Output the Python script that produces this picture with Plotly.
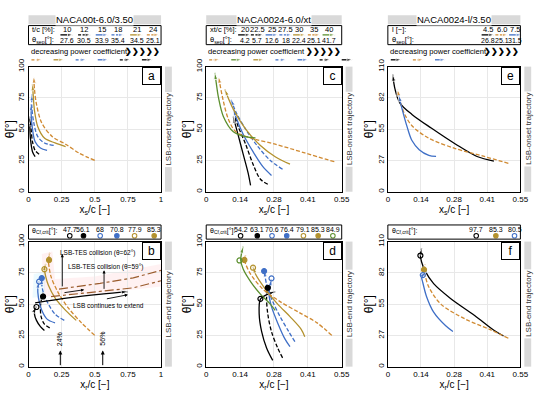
import plotly.graph_objects as go

# ---------------- colours / styles ----------------
BLACK = "#000000"; BLUE = "#3f6fc6"; GOLD = "#b3912d"; ORANGE = "#d08a32"
GREEN = "#5c8f2e"; BROWN = "#9a5b2c"; GREY = "#d9d9d9"

# ---------------- data ----------------
# Panel a / b : NACA00t-6.0/3.50, t/c [%]
a_labels = ["10", "12", "15", "18", "21", "24"]
a_sep = ["27.6", "30.5", "33.9", "35.4", "34.5", "25.1"]
a_onset_x = [[0.05, 0.03, 0.015, 0.01, 0.01],
             [0.08, 0.05, 0.03, 0.02, 0.015],
             [0.14, 0.09, 0.05, 0.03, 0.02, 0.02],
             [0.19, 0.12, 0.07, 0.04, 0.025, 0.025],
             [0.28, 0.2, 0.12, 0.07, 0.045, 0.035, 0.03],
             [0.5, 0.38, 0.28, 0.18, 0.1, 0.06, 0.045, 0.04]]
a_onset_y = [[28, 32, 42, 52, 60],
             [30, 33, 40, 50, 58],
             [33, 35, 40, 50, 62, 70],
             [37, 39, 44, 55, 68, 78],
             [36, 39, 43, 52, 65, 78, 86],
             [25, 31, 38, 44, 55, 70, 82, 92]]
b_end_x = [[0.12, 0.09, 0.06, 0.045, 0.05, 0.06],
           [0.16, 0.12, 0.095, 0.09, 0.1, 0.11],
           [0.2, 0.14, 0.1, 0.075, 0.07, 0.08],
           [0.27, 0.2, 0.15, 0.11, 0.1, 0.1],
           [0.36, 0.28, 0.2, 0.15, 0.13, 0.12, 0.13],
           [0.5, 0.4, 0.3, 0.22, 0.17, 0.155, 0.15, 0.16]]
b_end_y = [[29, 32, 37, 42, 46, 48],
           [31, 34, 40, 48, 55, 59],
           [35, 38, 45, 55, 63, 68],
           [37, 42, 50, 60, 66, 71],
           [37, 45, 55, 65, 72, 78, 82],
           [25, 35, 47, 60, 72, 80, 86, 91]]
b_crit = [47.7, 56.1, 68, 70.8, 77.9, 85.3]
b_crit_x = [0.06, 0.11, 0.08, 0.1, 0.12, 0.155]
b_extend_x = [0.05, 0.3, 0.55, 0.75]
b_extend_y = [51, 55, 58, 60]
b_tes62_x = [0.23, 0.54, 0.79, 1.0]
b_tes62_y = [62, 66.6, 71, 77]
b_tes59_x = [0.17, 0.54, 0.79, 1.0]
b_tes59_y = [56, 60, 63, 68.7]
b_pct_x = [0.24, 0.56]
b_pct_txt = ["24%", "56%"]

# Panel c / d : NACA0024-6.0/xt, xt/c [%]
c_labels = ["20", "22.5", "25", "27.5", "30", "35", "40"]
c_sep = ["4.2", "5.7", "12.6", "18", "22.4", "25.1", "41.7"]
c_onset_x = [[0.18, 0.17, 0.15, 0.13, 0.115, 0.11],
             [0.25, 0.22, 0.19, 0.16, 0.13, 0.115],
             [0.265, 0.23, 0.19, 0.15, 0.12, 0.11],
             [0.31, 0.26, 0.21, 0.16, 0.12, 0.10],
             [0.34, 0.28, 0.22, 0.16, 0.11, 0.075],
             [0.52, 0.4, 0.28, 0.18, 0.12, 0.09, 0.07, 0.05],
             [0.2, 0.16, 0.11, 0.07, 0.05, 0.04, 0.035]]
c_onset_y = [[5, 15, 30, 45, 56, 60],
             [6, 10, 22, 38, 52, 61],
             [13, 20, 32, 46, 60, 66],
             [18, 25, 36, 50, 64, 74],
             [22, 28, 37, 50, 66, 82],
             [24, 31, 38, 43, 48, 58, 72, 92],
             [43, 44, 48, 60, 75, 88, 95]]
d_end_x = [[0.27, 0.245, 0.225, 0.215, 0.22, 0.25, 0.28],
           [0.31, 0.29, 0.265, 0.25, 0.245, 0.25],
           [0.34, 0.32, 0.29, 0.265, 0.255, 0.26, 0.265],
           [0.36, 0.335, 0.3, 0.27, 0.245, 0.235],
           [0.4, 0.385, 0.34, 0.29, 0.24, 0.2, 0.19],
           [0.51, 0.45, 0.38, 0.3, 0.23, 0.18, 0.16, 0.155, 0.16],
           [0.28, 0.26, 0.22, 0.18, 0.15, 0.14, 0.145, 0.15]]
d_end_y = [[5, 15, 28, 42, 54, 58, 60],
           [7, 15, 28, 42, 55, 64],
           [16, 22, 35, 48, 58, 65, 70],
           [20, 28, 40, 52, 66, 77],
           [24, 30, 40, 50, 62, 74, 80],
           [25, 35, 43, 52, 62, 74, 82, 85, 89],
           [45, 50, 58, 68, 78, 85, 92, 96]]
d_crit = [54.2, 63.1, 70.6, 76.4, 79.1, 85.3, 84.9]
d_crit_x = [0.22, 0.25, 0.265, 0.235, 0.19, 0.155, 0.135]

# Panel e / f : NACA0024-l/3.50, l [-]
e_labels = ["4.5", "6.0", "7.5"]
e_sep = ["26.8", "25.1", "31.5"]
e_onset_x = [[0.44, 0.37, 0.28, 0.18, 0.1, 0.05, 0.03, 0.02],
             [0.5, 0.4, 0.28, 0.17, 0.1, 0.07, 0.05, 0.04],
             [0.2, 0.17, 0.13, 0.1, 0.08, 0.06, 0.045]]
e_onset_y = [[27, 31, 42, 56, 68, 78, 90, 103],
             [25, 31, 38, 47, 58, 68, 80, 90],
             [31, 32, 37, 45, 57, 72, 85]]
f_end_x = [[0.48, 0.44, 0.36, 0.26, 0.19, 0.155, 0.14, 0.135, 0.14],
           [0.5, 0.42, 0.32, 0.22, 0.17, 0.155, 0.15, 0.155],
           [0.27, 0.24, 0.19, 0.16, 0.145, 0.14, 0.145, 0.16]]
f_end_y = [[27, 32, 45, 60, 73, 84, 92, 97.7, 104],
           [25, 33, 42, 55, 70, 80, 85, 90],
           [31, 36, 48, 62, 74, 79, 80.5, 83]]
f_crit = [97.7, 85.3, 80.5]
f_crit_x = [0.135, 0.15, 0.145]

# ---------------- styles ----------------
a_styles = [(BLACK, "solid"), (BLACK, "4px,2px"), (BLUE, "solid"), (BLUE, "4px,2px"),
            (GOLD, "solid"), (ORANGE, "4px,2px")]
c_styles = [(BLACK, "solid"), (BLACK, "4px,2px"), (BLUE, "solid"), (BLUE, "4px,2px"),
            (GOLD, "solid"), (ORANGE, "4px,2px"), (GREEN, "solid")]
e_styles = [(BLACK, "solid"), (ORANGE, "4px,2px"), (BLUE, "solid")]
a_order = [5, 4, 3, 2, 1, 0]
c_order = [5, 6, 4, 3, 2, 1, 0]
e_order = [0, 1, 2]
b_filled = [False, True, False, True, False, True]
d_filled = [False, True, False, True, False, True, False]
f_filled = [False, True, False]

W, H = 550, 396
FONT = "Arial, Liberation Sans, sans-serif"

# layout geometry in pixels
cols = {"a": (27, 162), "c": (208, 346), "e": (393, 528)}
TOP = (60, 188)
BOT = (239, 367)
a_hdr_pos = [66, 84, 102, 118, 137, 154]
c_hdr_pos = [247, 260, 275, 289, 303, 318, 333]
e_hdr_pos = [495, 509, 523]
b_leg_pos = [69, 83, 100, 117, 135, 155]
d_leg_pos = [243, 260, 275, 290, 307, 322, 337]
f_leg_pos = [483, 503, 522]


def PX(p):
    return p / W


def PY(p):
    return 1 - p / H


fig = go.Figure()
annotations = []
shapes = []


def ann(x, y, text, size=7, xanchor="center", yanchor="middle", **kw):
    d = dict(x=PX(x), y=PY(y), xref="paper", yref="paper", text=text, showarrow=False,
             font=dict(size=size, color="black", family=FONT), xanchor=xanchor, yanchor=yanchor)
    d.update(kw)
    annotations.append(d)


def rect(x0, y0, x1, y1, fill=None, line=None, lw=1):
    shapes.append(dict(type="rect", xref="paper", yref="paper", x0=PX(x0), x1=PX(x1),
                       y0=PY(y1), y1=PY(y0), fillcolor=fill if fill else "rgba(0,0,0,0)",
                       line=dict(color=line if line else "rgba(0,0,0,0)", width=lw), layer="above"))


# ---------------- axes ----------------
panel_defs = [
    ("a", 1, "a", TOP, [0, 1], [0, 100], "s", "LSB-onset trajectory"),
    ("b", 2, "a", BOT, [0, 1], [0, 100], "r", "LSB-end trajectory"),
    ("c", 3, "c", TOP, [0, 0.55], [0, 100], "s", "LSB-onset trajectory"),
    ("d", 4, "c", BOT, [0, 0.55], [0, 100], "r", "LSB-end trajectory"),
    ("e", 5, "e", TOP, [0, 0.55], [0, 110], "s", "LSB-onset trajectory"),
    ("f", 6, "e", BOT, [0, 0.55], [0, 110], "r", "LSB-end trajectory"),
]
layout_axes = {}
for name, idx, col, row, xr, yr, sub, side in panel_defs:
    L, R = cols[col]
    T, B = row
    if xr[1] == 1:
        xt = [0, 0.25, 0.5, 0.75, 1]; xtt = ["0", "0.25", "0.5", "0.75", "1"]
    else:
        xt = [0, 0.1375, 0.275, 0.4125, 0.55]; xtt = ["0", "0.14", "0.28", "0.41", "0.55"]
    if yr[1] == 100:
        yt = [0, 25, 50, 75, 100]; ytt = ["0", "25", "50", "75", "100"]
    else:
        yt = [0, 27.5, 55, 82.5, 110]; ytt = ["0", "27", "55", "82", "110"]
    common = dict(showline=True, mirror=True, linecolor="black", linewidth=1,
                  showgrid=True, gridcolor="#e8e8e8", gridwidth=1, zeroline=False,
                  ticks="", tickfont=dict(size=8, family=FONT, color="black"), fixedrange=True)
    layout_axes["xaxis%d" % idx] = dict(domain=[PX(L), PX(R)], range=xr, tickvals=xt, ticktext=xtt,
                                        anchor="y%d" % idx,
                                        title=dict(text="x<sub>%s</sub>/c [−]" % sub, standoff=0,
                                                   font=dict(size=10, family=FONT, color="black")),
                                        **common)
    layout_axes["yaxis%d" % idx] = dict(domain=[PY(B), PY(T)], range=yr, tickvals=yt, ticktext=ytt,
                                        anchor="x%d" % idx, tickangle=-90,
                                        title=dict(text="θ[°]", standoff=0,
                                                   font=dict(size=12, family=FONT, color="black")),
                                        **common)
    rect(R + 4, T, R + 11, B, fill=GREY)
    annotations.append(dict(x=PX(R + 7.5), y=PY((T + B) / 2), xref="paper", yref="paper",
                            text=side, textangle=-90, showarrow=False, bgcolor="white",
                            xanchor="center", yanchor="middle",
                            font=dict(size=8, family=FONT, color="#333333")))
    annotations.append(dict(x=PX(R), y=PY(T), xref="paper", yref="paper", text=name,
                            showarrow=False, xanchor="right", yanchor="top", bgcolor="white",
                            bordercolor="black", borderwidth=1, width=15, height=14,
                            font=dict(size=12, family=FONT, color="black")))

layout_axes["xaxis7"] = dict(domain=[0, 1], range=[0, W], visible=False, anchor="y7", fixedrange=True)
layout_axes["yaxis7"] = dict(domain=[0, 1], range=[H, 0], visible=False, anchor="x7", fixedrange=True)


def series(xs, ys, color, dash, ax, width=1.3):
    n = len(xs)
    fig.add_trace(go.Scatter(x=xs, y=ys, xaxis="x%d" % ax, yaxis="y%d" % ax, mode="lines+markers",
                             line=dict(color=color, dash=dash, width=width, shape="spline", smoothing=0.9),
                             marker=dict(symbol="arrow", size=[0] * (n - 1) + [7], angleref="previous",
                                         color=color),
                             hoverinfo="skip", showlegend=False))


def crit_markers(xs, ys, styles, filled, ax):
    for x, y, (c, _), f in zip(xs, ys, styles, filled):
        mc = GOLD if c == ORANGE else c
        fig.add_trace(go.Scatter(x=[x], y=[y], xaxis="x%d" % ax, yaxis="y%d" % ax, mode="markers",
                                 marker=dict(symbol="circle" if f else "circle-open", size=5, color=mc,
                                             line=dict(color=mc, width=1.2)),
                                 hoverinfo="skip", showlegend=False))


def hdr_arrow(x0, x1, y, color, dash):
    fig.add_trace(go.Scatter(x=[x0, x1], y=[y, y], xaxis="x7", yaxis="y7", mode="lines+markers",
                             line=dict(color=color, dash=dash, width=1.3),
                             marker=dict(symbol="arrow", size=[0, 6], angleref="previous", color=color),
                             hoverinfo="skip", showlegend=False))


shapes.append(dict(type="path", xref="x2", yref="y2",
                   path="M 0.12 56 L 0.5 58 L 1 64 L 1 82 L 0.5 72 L 0.2 70 L 0.18 92 L 0.1 90 Z",
                   fillcolor="rgba(255,140,150,0.12)", line=dict(width=0), layer="below"))
shapes.append(dict(type="path", xref="x2", yref="y2",
                   path="M 0.03 55 L 0.12 56 L 0.13 76 L 0.04 74 Z",
                   fillcolor="rgba(120,220,255,0.14)", line=dict(width=0), layer="below"))

# ---------------- curves ----------------
for xs, ys, st in zip(a_onset_x, a_onset_y, a_styles):
    series(xs, ys, st[0], st[1], 1)
for xs, ys, st in zip(b_end_x, b_end_y, a_styles):
    series(xs, ys, st[0], st[1], 2)
for xs, ys, st in zip(c_onset_x, c_onset_y, c_styles):
    series(xs, ys, st[0], st[1], 3)
for xs, ys, st in zip(d_end_x, d_end_y, c_styles):
    series(xs, ys, st[0], st[1], 4)
for xs, ys, st in zip(e_onset_x, e_onset_y, e_styles):
    series(xs, ys, st[0], st[1], 5)
for xs, ys, st in zip(f_end_x, f_end_y, e_styles):
    series(xs, ys, st[0], st[1], 6)

series(b_extend_x, b_extend_y, BLACK, "solid", 2)
fig.add_trace(go.Scatter(x=b_tes62_x, y=b_tes62_y, xaxis="x2", yaxis="y2", mode="lines",
                         line=dict(color=BROWN, dash="dashdot", width=1.2), hoverinfo="skip", showlegend=False))
fig.add_trace(go.Scatter(x=b_tes59_x, y=b_tes59_y, xaxis="x2", yaxis="y2", mode="lines",
                         line=dict(color=BROWN, dash="dashdot", width=1.2), hoverinfo="skip", showlegend=False))

crit_markers(b_crit_x, b_crit, a_styles, b_filled, 2)
crit_markers(d_crit_x, d_crit, c_styles, d_filled, 4)
crit_markers(f_crit_x, f_crit, e_styles, f_filled, 6)

for xv, t in zip(b_pct_x, b_pct_txt):
    annotations.append(dict(x=xv, y=13, ax=xv, ay=0, xref="x2", yref="y2", axref="x2", ayref="y2",
                            showarrow=True, arrowhead=2, arrowsize=0.8, arrowwidth=1, arrowcolor="black",
                            text=""))
    annotations.append(dict(x=xv, y=15, xref="x2", yref="y2", text=t, textangle=-90, showarrow=False,
                            yanchor="bottom", font=dict(size=7, family=FONT, color="black")))
ann_b = [
    (0.52, 91, "LSB-TES collision (θ=62°)"),
    (0.58, 80, "LSB-TES collision (θ=59°)"),
    (0.6, 49, "LSB continues to extend"),
]
for xv, yv, t in ann_b:
    annotations.append(dict(x=xv, y=yv, xref="x2", yref="y2", text=t, showarrow=False,
                            font=dict(size=6.5, family=FONT, color="black")))
arrows_b = [((0.255, 63), (0.255, 90)), ((0.57, 61), (0.57, 77)), ((0.26, 59), (0.42, 61.5)),
            ((0.58, 54), (0.75, 57.5))]
for (tx, ty), (hx, hy) in arrows_b:
    annotations.append(dict(x=hx, y=hy, ax=tx, ay=ty, xref="x2", yref="y2", axref="x2", ayref="y2",
                            showarrow=True, arrowhead=2, arrowsize=0.7, arrowwidth=0.9,
                            arrowcolor="black", text=""))

# ---------------- headers ----------------
headers = [
    ("a", "NACA00t-6.0/3.50", "t/c [%]:", a_labels, a_sep, a_styles, a_order, a_hdr_pos),
    ("c", "NACA0024-6.0/xt", "xt/c [%]:", c_labels, c_sep, c_styles, c_order, c_hdr_pos),
    ("e", "NACA0024-l/3.50", "l [−]:", e_labels, e_sep, e_styles, e_order, e_hdr_pos),
]
for col, title, plab, labs, seps, styles, order, pos in headers:
    L, R = cols[col]
    rect(L, 7.5, R, 16.5, fill=GREY)
    ann((L + R) / 2, 12, title, size=9.5, bgcolor="white", borderpad=0)
    rect(L, 18, R, 37.5, line="black", lw=1)
    ann(L + 2, 22.5, plab, size=7.5, xanchor="left")
    ann(L + 2, 32.5, "θ<sub>sep</sub>[°]:", size=7.5, xanchor="left")
    for p, lab, s, st in zip(pos, labs, seps, styles):
        ann(p, 22.5, lab, size=7.5)
        ann(p, 33, s, size=7)
        hdr_arrow(p - 6.5, p + 6.5, 27.5, st[0], "3px,1.5px" if st[1] != "solid" else "solid")
    ann(L, 45, "decreasing power coefficient", size=7.6, xanchor="left")
    ann(R + 1, 45, "<b>❯❯❯❯❯</b>", size=7.5, xanchor="right")
    for k, i in enumerate(order):
        st = styles[i]
        x0 = L + 3 + k * 22.5
        hdr_arrow(x0, x0 + 11, 53, st[0], "3px,1.5px" if st[1] != "solid" else "solid")

# ---------------- bottom legends ----------------
legends = [("a", b_crit, b_leg_pos, a_styles, b_filled),
           ("c", d_crit, d_leg_pos, c_styles, d_filled),
           ("e", f_crit, f_leg_pos, e_styles, f_filled)]
for col, vals, pos, styles, filled in legends:
    L, R = cols[col]
    rect(L, 222, R, 236.5, line="black", lw=1)
    ann(L + 2, 228.5, "θ<sub>Cf,crit</sub>[°]:", size=7, xanchor="left")
    for p, v, st, f in zip(pos, vals, styles, filled):
        ann(p, 226.5, "%g" % v, size=7)
        mc = GOLD if st[0] == ORANGE else st[0]
        fig.add_trace(go.Scatter(x=[p], y=[233], xaxis="x7", yaxis="y7", mode="markers",
                                 marker=dict(symbol="circle" if f else "circle-open", size=4.5, color=mc,
                                             line=dict(color=mc, width=1.1)),
                                 hoverinfo="skip", showlegend=False))

fig.update_layout(width=W, height=H, margin=dict(l=0, r=0, t=0, b=0),
                  paper_bgcolor="white", plot_bgcolor="rgba(0,0,0,0)",
                  font=dict(family=FONT, color="black"),
                  annotations=annotations, shapes=shapes, **layout_axes)
fig.write_html("out.html", config={"displayModeBar": False, "staticPlot": True},
               post_script="document.body.style.margin='0';")
